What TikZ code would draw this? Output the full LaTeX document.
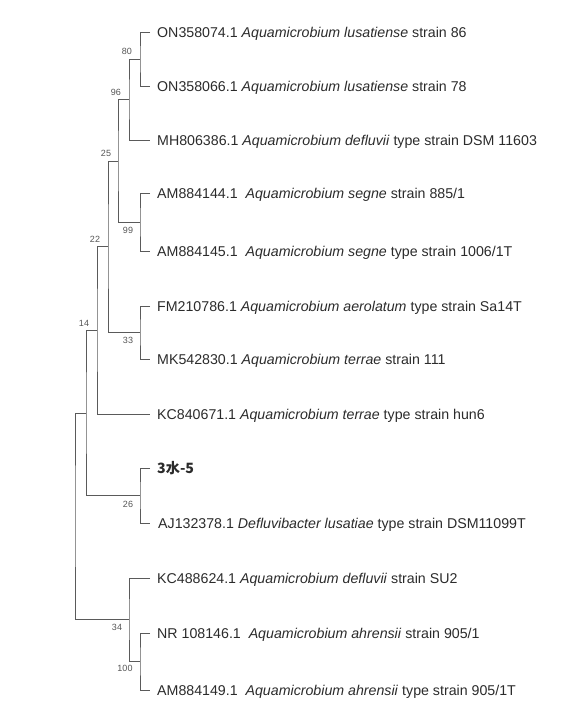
\documentclass[tikz,border=0pt]{standalone}
\usepackage{fontspec}
\setmainfont{Liberation Sans}
\setsansfont{Liberation Sans}
\newfontfamily\cjk{Noto Sans CJK SC}
\usetikzlibrary{positioning}
\definecolor{ink}{HTML}{2B2B2B}
\definecolor{twig}{HTML}{5A5A5A}
\definecolor{boot}{HTML}{555555}

\begin{document}
\begin{tikzpicture}[x=1pt,y=-1pt,font=\sffamily,
  branch/.style={twig,line width=0.8pt},
  leaf/.style={right=7pt of #1,inner sep=0pt,ink,font=\fontsize{14.2}{16}\selectfont,
    text height=10pt,text depth=0pt},
  bootval/.style={boot,inner sep=0pt,font=\fontsize{9}{10}\selectfont}]
 \useasboundingbox (0,0) rectangle (574,723);
 % leaf tips
 \coordinate (t1) at (150,32);
 \coordinate (t2) at (150,86);
 \coordinate (t3) at (150,140);
 \coordinate (t4) at (150,193);
 \coordinate (t5) at (150,251);
 \coordinate (t6) at (150,306);
 \coordinate (t7) at (150,359);
 \coordinate (t8) at (150,414);
 \coordinate (t9) at (150,468);
 \coordinate (t10) at (150,523);
 \coordinate (t11) at (150,578);
 \coordinate (t12) at (150,633);
 \coordinate (t13) at (150,690);
 % inner nodes
 \coordinate (n80) at (140,59);
 \coordinate (n96) at (129,99);
 \coordinate (n99) at (140,222);
 \coordinate (n25) at (118,161);
 \coordinate (n33) at (140,332);
 \coordinate (nA) at (108,246);
 \coordinate (n22) at (97,330);
 \coordinate (n26) at (140,495);
 \coordinate (n14) at (86,413);
 \coordinate (n100) at (140,661);
 \coordinate (n34) at (129,619);
 \coordinate (root) at (75,516);
 % labels
 \node[leaf=t1] (l1) {ON358074.1 \textit{Aquamicrobium lusatiense} strain 86};
 \node[leaf=t2] (l2) {ON358066.1 \textit{Aquamicrobium lusatiense} strain 78};
 \node[leaf=t3] (l3) {MH806386.1 \textit{Aquamicrobium defluvii} type strain DSM 11603};
 \node[leaf=t4] (l4) {AM884144.1\ \ \textit{Aquamicrobium segne} strain 885/1};
 \node[leaf=t5] (l5) {AM884145.1\ \ \textit{Aquamicrobium segne} type strain 1006/1T};
 \node[leaf=t6] (l6) {FM210786.1 \textit{Aquamicrobium aerolatum} type strain Sa14T};
 \node[leaf=t7] (l7) {MK542830.1 \textit{Aquamicrobium terrae} strain 111};
 \node[leaf=t8] (l8) {KC840671.1 \textit{Aquamicrobium terrae} type strain hun6};
 \node[leaf=t9,text height=11pt] (l9) {\cjk\bfseries 3水-5};
 \node[leaf=t10,xshift=1pt] (l10) {AJ132378.1 \textit{Defluvibacter lusatiae} type strain DSM11099T};
 \node[leaf=t11] (l11) {KC488624.1 \textit{Aquamicrobium defluvii} strain SU2};
 \node[leaf=t12] (l12) {NR 108146.1\ \ \textit{Aquamicrobium ahrensii} strain 905/1};
 \node[leaf=t13] (l13) {AM884149.1\ \ \textit{Aquamicrobium ahrensii} type strain 905/1T};
 % branches
 \draw[branch] (t1) -| (n80) |- (t2);
 \draw[branch] (n80) -| (n96) |- (t3);
 \draw[branch] (t4) -| (n99) |- (t5);
 \draw[branch] (n96) -| (n25) |- (n99);
 \draw[branch] (t6) -| (n33) |- (t7);
 \draw[branch] (n25) -| (nA) |- (n33);
 \draw[branch] (nA) -| (n22) |- (t8);
 \draw[branch] (t9) -| (n26) |- (t10);
 \draw[branch] (n22) -| (n14) |- (n26);
 \draw[branch] (t12) -| (n100) |- (t13);
 \draw[branch] (t11) -| (n34) |- (n100);
 \draw[branch] (n14) -| (root) |- (n34);
 % bootstrap values
 \node[bootval] (b80) at (127,51) {80};
 \node[bootval] (b96) at (116,92) {96};
 \node[bootval] (b25) at (106,153) {25};
 \node[bootval] (b22) at (95,239) {22};
 \node[bootval] (b14) at (84,323) {14};
 \node[bootval] (b99) at (128,230) {99};
 \node[bootval] (b33) at (128,340) {33};
 \node[bootval] (b26) at (128,504) {26};
 \node[bootval] (b34) at (117,627) {34};
 \node[bootval] (b100) at (125,668) {100};
\end{tikzpicture}
\end{document}
